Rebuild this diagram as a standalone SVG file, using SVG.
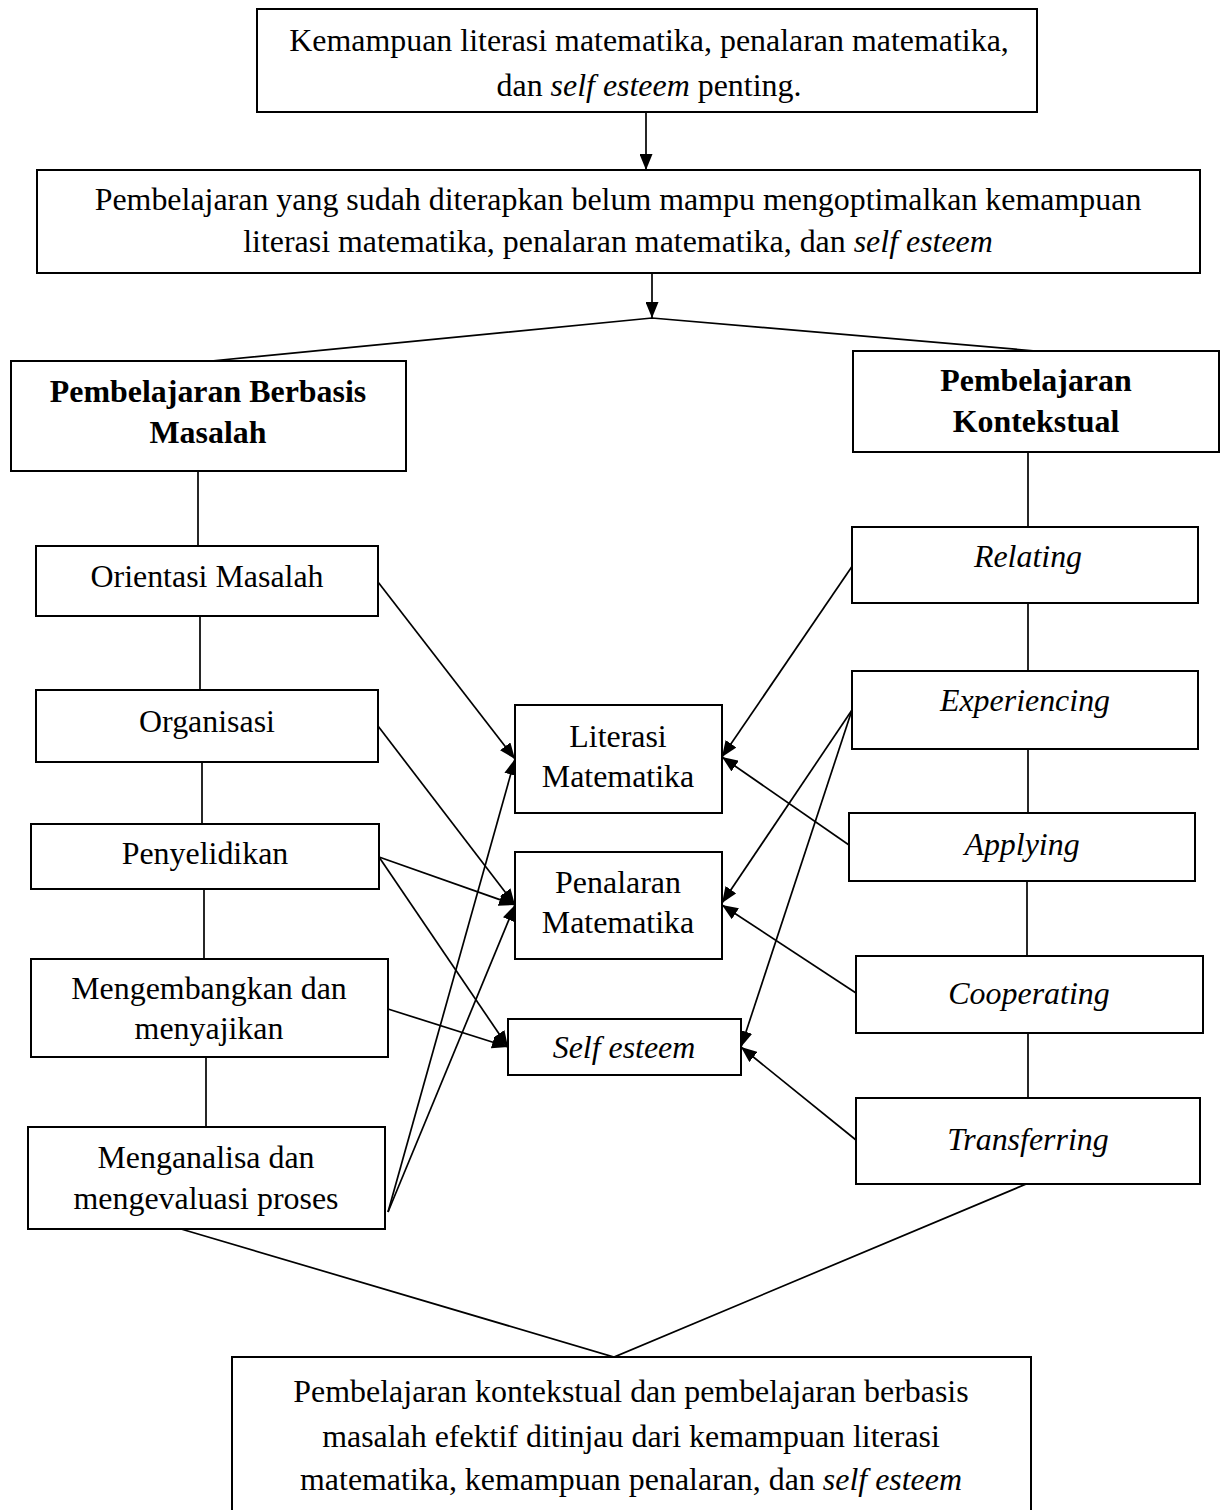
<svg xmlns="http://www.w3.org/2000/svg" width="1222" height="1510" viewBox="0 0 1222 1510">
<style>
  .box { fill: #fff; stroke: #000; stroke-width: 2; }
  .ln { fill: none; stroke: #000; stroke-width: 1.7; }
  .ar { fill: none; stroke: #000; stroke-width: 1.7; marker-end: url(#ah); }
  .t { font-family: "Liberation Serif", "Times New Roman", serif; font-size: 31px; fill: #000; text-anchor: middle; }
  .b { font-weight: bold; }
  .i { font-style: italic; }
</style>
<defs>
  <marker id="ah" markerUnits="userSpaceOnUse" markerWidth="17" markerHeight="13" refX="16" refY="6.5" orient="auto">
    <path d="M0,0 L16,6.5 L0,13 z" fill="#000"/>
  </marker>
</defs>
<rect width="1222" height="1510" fill="#fff"/>

<g id="connectors">
  <line class="ar" x1="646" y1="112" x2="646" y2="170"/>
  <line class="ar" x1="652" y1="273" x2="652" y2="318"/>
  <polyline class="ln" points="211,361 652,318 1036,351"/>
  <line class="ln" x1="198" y1="471" x2="198" y2="546"/>
  <line class="ln" x1="200" y1="616" x2="200" y2="690"/>
  <line class="ln" x1="202" y1="762" x2="202" y2="824"/>
  <line class="ln" x1="204" y1="889" x2="204" y2="959"/>
  <line class="ln" x1="206" y1="1057" x2="206" y2="1127"/>
  <line class="ln" x1="1028" y1="452" x2="1028" y2="527"/>
  <line class="ln" x1="1028" y1="603" x2="1028" y2="671"/>
  <line class="ln" x1="1028" y1="749" x2="1028" y2="813"/>
  <line class="ln" x1="1027" y1="881" x2="1027" y2="956"/>
  <line class="ln" x1="1028" y1="1033" x2="1028" y2="1098"/>
  <polyline class="ln" points="181,1229 614,1357 1031,1182"/>
  <line class="ar" x1="378" y1="582" x2="515" y2="759"/>
  <line class="ar" x1="378" y1="726" x2="515" y2="905"/>
  <line class="ar" x1="379" y1="857" x2="515" y2="905"/>
  <line class="ar" x1="379" y1="857" x2="508" y2="1047"/>
  <line class="ar" x1="388" y1="1009" x2="508" y2="1047"/>
  <line class="ar" x1="388" y1="1212" x2="515" y2="759"/>
  <line class="ar" x1="388" y1="1212" x2="515" y2="905"/>
  <line class="ar" x1="853" y1="565" x2="722" y2="757"/>
  <line class="ar" x1="849" y1="845" x2="722" y2="757"/>
  <line class="ar" x1="852" y1="710" x2="722" y2="903"/>
  <line class="ar" x1="856" y1="993" x2="722" y2="905"/>
  <line class="ar" x1="852" y1="710" x2="741" y2="1047"/>
  <line class="ar" x1="856" y1="1140" x2="741" y2="1047"/>
</g>

<g id="n-top">
  <rect class="box" x="257" y="9" width="780" height="103"/>
  <text class="t" transform="translate(649,51) scale(1.03 1)">Kemampuan literasi matematika, penalaran matematika,</text>
  <text class="t" transform="translate(649,96) scale(1.03 1)">dan <tspan class="i">self esteem</tspan> penting.</text>
</g>
<g id="n-problem">
  <rect class="box" x="37" y="170" width="1163" height="103"/>
  <text class="t" transform="translate(618,210) scale(1.03 1)">Pembelajaran yang sudah diterapkan belum mampu mengoptimalkan kemampuan</text>
  <text class="t" transform="translate(618,252) scale(1.03 1)">literasi matematika, penalaran matematika, dan <tspan class="i">self esteem</tspan></text>
</g>
<g id="n-pbm">
  <rect class="box" x="11" y="361" width="395" height="110"/>
  <text class="t b" transform="translate(208,402) scale(1.03 1)">Pembelajaran Berbasis</text>
  <text class="t b" transform="translate(208,443) scale(1.03 1)">Masalah</text>
</g>
<g id="n-ctl">
  <rect class="box" x="853" y="351" width="366" height="101"/>
  <text class="t b" transform="translate(1036,391) scale(1.03 1)">Pembelajaran</text>
  <text class="t b" transform="translate(1036,432) scale(1.03 1)">Kontekstual</text>
</g>
<g id="n-orientasi">
  <rect class="box" x="36" y="546" width="342" height="70"/>
  <text class="t" transform="translate(207,587) scale(1.03 1)">Orientasi Masalah</text>
</g>
<g id="n-organisasi">
  <rect class="box" x="36" y="690" width="342" height="72"/>
  <text class="t" transform="translate(207,732) scale(1.03 1)">Organisasi</text>
</g>
<g id="n-penyelidikan">
  <rect class="box" x="31" y="824" width="348" height="65"/>
  <text class="t" transform="translate(205,864) scale(1.03 1)">Penyelidikan</text>
</g>
<g id="n-mengembangkan">
  <rect class="box" x="31" y="959" width="357" height="98"/>
  <text class="t" transform="translate(209,999) scale(1.03 1)">Mengembangkan dan</text>
  <text class="t" transform="translate(209,1039) scale(1.03 1)">menyajikan</text>
</g>
<g id="n-menganalisa">
  <rect class="box" x="28" y="1127" width="357" height="102"/>
  <text class="t" transform="translate(206,1168) scale(1.03 1)">Menganalisa dan</text>
  <text class="t" transform="translate(206,1209) scale(1.03 1)">mengevaluasi proses</text>
</g>
<g id="n-literasi">
  <rect class="box" x="515" y="705" width="207" height="108"/>
  <text class="t" transform="translate(618,747) scale(1.03 1)">Literasi</text>
  <text class="t" transform="translate(618,787) scale(1.03 1)">Matematika</text>
</g>
<g id="n-penalaran">
  <rect class="box" x="515" y="852" width="207" height="107"/>
  <text class="t" transform="translate(618,893) scale(1.03 1)">Penalaran</text>
  <text class="t" transform="translate(618,933) scale(1.03 1)">Matematika</text>
</g>
<g id="n-selfesteem">
  <rect class="box" x="508" y="1019" width="233" height="56"/>
  <text class="t i" transform="translate(624,1058) scale(1.03 1)">Self esteem</text>
</g>
<g id="n-relating">
  <rect class="box" x="852" y="527" width="346" height="76"/>
  <text class="t i" transform="translate(1028,567) scale(1.03 1)">Relating</text>
</g>
<g id="n-experiencing">
  <rect class="box" x="852" y="671" width="346" height="78"/>
  <text class="t i" transform="translate(1025,711) scale(1.03 1)">Experiencing</text>
</g>
<g id="n-applying">
  <rect class="box" x="849" y="813" width="346" height="68"/>
  <text class="t i" transform="translate(1022,855) scale(1.03 1)">Applying</text>
</g>
<g id="n-cooperating">
  <rect class="box" x="856" y="956" width="347" height="77"/>
  <text class="t i" transform="translate(1029,1004) scale(1.03 1)">Cooperating</text>
</g>
<g id="n-transferring">
  <rect class="box" x="856" y="1098" width="344" height="86"/>
  <text class="t i" transform="translate(1028,1150) scale(1.03 1)">Transferring</text>
</g>
<g id="n-conclusion">
  <rect class="box" x="232" y="1357" width="799" height="170"/>
  <text class="t" transform="translate(631,1402) scale(1.03 1)">Pembelajaran kontekstual dan pembelajaran berbasis</text>
  <text class="t" transform="translate(631,1447) scale(1.03 1)">masalah efektif ditinjau dari kemampuan literasi</text>
  <text class="t" transform="translate(631,1490) scale(1.03 1)">matematika, kemampuan penalaran, dan <tspan class="i">self esteem</tspan></text>
</g>
</svg>
